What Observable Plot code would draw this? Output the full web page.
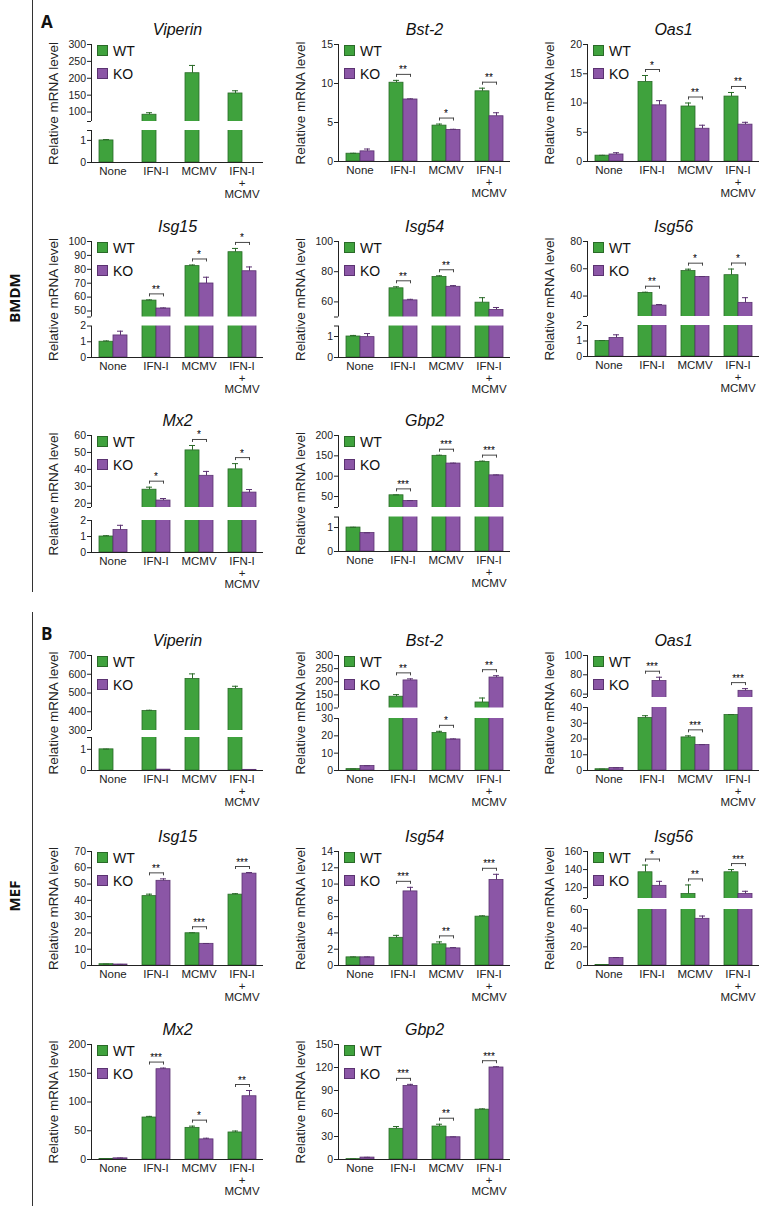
<!DOCTYPE html>
<html><head><meta charset="utf-8">
<script src="https://cdn.jsdelivr.net/npm/d3@7"></script>
<script src="https://cdn.jsdelivr.net/npm/@observablehq/plot@0.6"></script>
<style>
body{margin:0;background:#fff;font-family:"Liberation Sans",Arial,sans-serif;}
#root{position:relative;width:765px;height:1206px;overflow:hidden;background:#fff;}
.panel{position:absolute;z-index:1;}
.deco{z-index:2;}
.vline{position:absolute;left:32px;width:1.3px;background:#333;}
.sec{position:absolute;font-family:"Open Sans","Liberation Sans",sans-serif;font-weight:bold;font-size:17px;color:#111;}
.side{position:absolute;font-family:"Open Sans","Liberation Sans",sans-serif;font-weight:bold;font-size:15px;color:#111;transform:translate(-50%,-50%) rotate(-90deg);white-space:nowrap;}
.legend{position:absolute;z-index:3;font-size:14px;color:#111;line-height:1;}
.legend .row{display:flex;align-items:center;height:11px;margin-bottom:12px;}
.legend .sw{width:11px;height:11px;box-sizing:border-box;border:1px solid;margin-right:5px;}
g[aria-label="y-axis label"] text{font-size:13.5px;}
</style>
</head><body><div id="root"></div>
<script>
// ---------- shared categories ----------
const conditions = ["None", "IFN-I", "MCMV", "IFN-I\n+\nMCMV"];
const groups = ["WT", "KO"];

// ---------- A: BMDM ----------
const A_Viperin_WT = [1.0, 92, 215, 155];
const A_Viperin_WT_sd = [0.04, 6, 23, 8];
const A_Viperin_KO = [0, 0, 0, 0];
const A_Viperin_KO_sd = [0, 0, 0, 0];
const A_Viperin_sig = ["", "", "", ""];
const A_Viperin_lowTicks = [0, 1];
const A_Viperin_upTicks = [100, 150, 200, 250, 300];
const A_Viperin_break = [1.45, 72];

const A_Bst2_WT = [1.0, 10.1, 4.6, 9.0];
const A_Bst2_WT_sd = [0.05, 0.3, 0.2, 0.4];
const A_Bst2_KO = [1.3, 7.95, 4.05, 5.8];
const A_Bst2_KO_sd = [0.3, 0.08, 0.08, 0.45];
const A_Bst2_sig = ["", "**", "*", "**"];
const A_Bst2_ticks = [0, 5, 10, 15];

const A_Oas1_WT = [1.0, 13.6, 9.4, 11.1];
const A_Oas1_WT_sd = [0.05, 1.1, 0.6, 0.7];
const A_Oas1_KO = [1.2, 9.6, 5.6, 6.3];
const A_Oas1_KO_sd = [0.3, 0.8, 0.6, 0.4];
const A_Oas1_sig = ["", "*", "**", "**"];
const A_Oas1_ticks = [0, 5, 10, 15, 20];

const A_Isg15_WT = [1.0, 57.5, 82.3, 92.3];
const A_Isg15_WT_sd = [0.05, 0.5, 0.8, 2.7];
const A_Isg15_KO = [1.4, 51.8, 69.8, 78.6];
const A_Isg15_KO_sd = [0.27, 0.4, 4.5, 3.1];
const A_Isg15_sig = ["", "**", "*", "*"];
const A_Isg15_lowTicks = [0, 1, 2];
const A_Isg15_upTicks = [50, 60, 70, 80, 90, 100];
const A_Isg15_break = [2, 45.7];

const A_Isg54_WT = [1.0, 69, 76.5, 59.5];
const A_Isg54_WT_sd = [0.05, 1.0, 0.8, 3.3];
const A_Isg54_KO = [0.97, 61, 70, 54.7];
const A_Isg54_KO_sd = [0.17, 0.7, 0.8, 1.6];
const A_Isg54_sig = ["", "**", "**", ""];
const A_Isg54_lowTicks = [0, 1];
const A_Isg54_upTicks = [60, 80, 100];
const A_Isg54_break = [1.5, 50];

const A_Isg56_WT = [1.0, 42.3, 58.3, 55.3];
const A_Isg56_WT_sd = [0.03, 0.5, 1.4, 4.5];
const A_Isg56_KO = [1.2, 33, 54, 35];
const A_Isg56_KO_sd = [0.2, 0.8, 0.3, 3.8];
const A_Isg56_sig = ["", "**", "*", "*"];
const A_Isg56_lowTicks = [0, 1, 2];
const A_Isg56_upTicks = [40, 60, 80];
const A_Isg56_break = [2, 25];

const A_Mx2_WT = [1.0, 28, 51.2, 40];
const A_Mx2_WT_sd = [0.05, 1.5, 2.9, 3.4];
const A_Mx2_KO = [1.4, 21.6, 36.2, 26.3];
const A_Mx2_KO_sd = [0.3, 1.2, 2.6, 1.8];
const A_Mx2_sig = ["", "*", "*", "*"];
const A_Mx2_lowTicks = [0, 1, 2];
const A_Mx2_upTicks = [20, 30, 40, 50, 60];
const A_Mx2_break = [2, 17.5];

const A_Gbp2_WT = [1.0, 53, 150, 135];
const A_Gbp2_WT_sd = [0.01, 1, 1.5, 2];
const A_Gbp2_KO = [0.77, 39, 131, 102];
const A_Gbp2_KO_sd = [0.01, 1, 1, 1];
const A_Gbp2_sig = ["", "***", "***", "***"];
const A_Gbp2_lowTicks = [0, 1];
const A_Gbp2_upTicks = [50, 100, 150, 200];
const A_Gbp2_break = [1.44, 23];

// ---------- B: MEF ----------
const B_Viperin_WT = [1.0, 404, 575, 522];
const B_Viperin_WT_sd = [0.01, 4, 27, 14];
const B_Viperin_KO = [0, 0.04, 0, 0.03];
const B_Viperin_KO_sd = [0, 0, 0, 0];
const B_Viperin_sig = ["", "", "", ""];
const B_Viperin_lowTicks = [0, 1];
const B_Viperin_upTicks = [300, 400, 500, 600, 700];
const B_Viperin_break = [1.56, 300];

const B_Bst2_WT = [0.8, 143, 21.6, 121];
const B_Bst2_WT_sd = [0.05, 8, 1, 17];
const B_Bst2_KO = [2.6, 205, 17.9, 216];
const B_Bst2_KO_sd = [0.15, 6, 0.3, 7];
const B_Bst2_sig = ["", "**", "*", "**"];
const B_Bst2_lowTicks = [0, 10, 20, 30];
const B_Bst2_upTicks = [100, 150, 200, 250, 300];
const B_Bst2_break = [30, 100];

const B_Oas1_WT = [0.8, 33.3, 21, 35.2];
const B_Oas1_WT_sd = [0.05, 1.5, 1, 0.3];
const B_Oas1_KO = [1.6, 73.5, 16.2, 63.4];
const B_Oas1_KO_sd = [0.1, 4, 0.2, 2.3];
const B_Oas1_sig = ["", "***", "***", "***"];
const B_Oas1_lowTicks = [0, 10, 20, 30, 40];
const B_Oas1_upTicks = [60, 80, 100];
const B_Oas1_break = [40, 56.5];

const B_Isg15_WT = [0.8, 42.6, 19.8, 43.5];
const B_Isg15_WT_sd = [0.05, 1.2, 0.3, 0.6];
const B_Isg15_KO = [0.6, 52, 13.3, 56.4];
const B_Isg15_KO_sd = [0.05, 1.2, 0.2, 0.7];
const B_Isg15_sig = ["", "**", "***", "***"];
const B_Isg15_ticks = [0, 10, 20, 30, 40, 50, 60, 70];

const B_Isg54_WT = [1.0, 3.4, 2.6, 6.0];
const B_Isg54_WT_sd = [0.05, 0.3, 0.3, 0.1];
const B_Isg54_KO = [1.0, 9.1, 2.1, 10.5];
const B_Isg54_KO_sd = [0.05, 0.5, 0.1, 0.7];
const B_Isg54_sig = ["", "***", "**", "***"];
const B_Isg54_ticks = [0, 2, 4, 6, 8, 10, 12, 14];

const B_Isg56_WT = [0.5, 137, 113, 137];
const B_Isg56_WT_sd = [0.1, 8, 10, 3];
const B_Isg56_KO = [8, 122, 50, 113];
const B_Isg56_KO_sd = [0.5, 5, 3, 3];
const B_Isg56_sig = ["", "*", "**", "***"];
const B_Isg56_lowTicks = [0, 20, 40, 60];
const B_Isg56_upTicks = [120, 140, 160];
const B_Isg56_break = [60, 108];

const B_Mx2_WT = [1, 73, 55, 47];
const B_Mx2_WT_sd = [0.2, 2, 3, 2.5];
const B_Mx2_KO = [2, 157, 35, 110];
const B_Mx2_KO_sd = [0.5, 2, 2, 10];
const B_Mx2_sig = ["", "***", "*", "**"];
const B_Mx2_ticks = [0, 50, 100, 150, 200];

const B_Gbp2_WT = [0.5, 40, 43, 65];
const B_Gbp2_WT_sd = [0.2, 3, 3, 1];
const B_Gbp2_KO = [2.5, 96, 29, 120];
const B_Gbp2_KO_sd = [0.3, 2, 0.5, 1];
const B_Gbp2_sig = ["", "***", "**", "***"];
const B_Gbp2_ticks = [0, 30, 60, 90, 120, 150];

// ---------- styling ----------
const fillColors = {WT: "#3fa23d", KO: "#8b56a6"};
const edgeColors = {WT: "#2a6a28", KO: "#5b3271"};

// ---------- layout ----------
const PW = 250, ML = 72, MR = 3, MT = 28, MB = 50;
const colLeft = [17, 264, 513];
const rowTop = [16, 213, 407, 627, 823, 1016];

const panels = [
  {gene: "Viperin", wt: A_Viperin_WT, wtSd: A_Viperin_WT_sd, ko: A_Viperin_KO, koSd: A_Viperin_KO_sd, sig: A_Viperin_sig, low: A_Viperin_lowTicks, up: A_Viperin_upTicks, brk: A_Viperin_break, lowH: 32, gap: 9, col: 0, row: 0, fh: 118},
  {gene: "Bst-2", wt: A_Bst2_WT, wtSd: A_Bst2_WT_sd, ko: A_Bst2_KO, koSd: A_Bst2_KO_sd, sig: A_Bst2_sig, ticks: A_Bst2_ticks, col: 1, row: 0, fh: 117},
  {gene: "Oas1", wt: A_Oas1_WT, wtSd: A_Oas1_WT_sd, ko: A_Oas1_KO, koSd: A_Oas1_KO_sd, sig: A_Oas1_sig, ticks: A_Oas1_ticks, col: 2, row: 0, fh: 117},
  {gene: "Isg15", wt: A_Isg15_WT, wtSd: A_Isg15_WT_sd, ko: A_Isg15_KO, koSd: A_Isg15_KO_sd, sig: A_Isg15_sig, low: A_Isg15_lowTicks, up: A_Isg15_upTicks, brk: A_Isg15_break, lowH: 31.5, gap: 9, col: 0, row: 1, fh: 116},
  {gene: "Isg54", wt: A_Isg54_WT, wtSd: A_Isg54_WT_sd, ko: A_Isg54_KO, koSd: A_Isg54_KO_sd, sig: A_Isg54_sig, low: A_Isg54_lowTicks, up: A_Isg54_upTicks, brk: A_Isg54_break, lowH: 31.5, gap: 9, col: 1, row: 1, fh: 116},
  {gene: "Isg56", wt: A_Isg56_WT, wtSd: A_Isg56_WT_sd, ko: A_Isg56_KO, koSd: A_Isg56_KO_sd, sig: A_Isg56_sig, low: A_Isg56_lowTicks, up: A_Isg56_upTicks, brk: A_Isg56_break, lowH: 31, gap: 9, col: 2, row: 1, fh: 115},
  {gene: "Mx2", wt: A_Mx2_WT, wtSd: A_Mx2_WT_sd, ko: A_Mx2_KO, koSd: A_Mx2_KO_sd, sig: A_Mx2_sig, low: A_Mx2_lowTicks, up: A_Mx2_upTicks, brk: A_Mx2_break, lowH: 32, gap: 13, col: 0, row: 2, fh: 117},
  {gene: "Gbp2", wt: A_Gbp2_WT, wtSd: A_Gbp2_WT_sd, ko: A_Gbp2_KO, koSd: A_Gbp2_KO_sd, sig: A_Gbp2_sig, low: A_Gbp2_lowTicks, up: A_Gbp2_upTicks, brk: A_Gbp2_break, lowH: 34.5, gap: 9.5, col: 1, row: 2, fh: 116},
  {gene: "Viperin", wt: B_Viperin_WT, wtSd: B_Viperin_WT_sd, ko: B_Viperin_KO, koSd: B_Viperin_KO_sd, sig: B_Viperin_sig, low: B_Viperin_lowTicks, up: B_Viperin_upTicks, brk: B_Viperin_break, lowH: 33, gap: 7, col: 0, row: 3, fh: 115},
  {gene: "Bst-2", wt: B_Bst2_WT, wtSd: B_Bst2_WT_sd, ko: B_Bst2_KO, koSd: B_Bst2_KO_sd, sig: B_Bst2_sig, low: B_Bst2_lowTicks, up: B_Bst2_upTicks, brk: B_Bst2_break, lowH: 52, gap: 10.5, col: 1, row: 3, fh: 115},
  {gene: "Oas1", wt: B_Oas1_WT, wtSd: B_Oas1_WT_sd, ko: B_Oas1_KO, koSd: B_Oas1_KO_sd, sig: B_Oas1_sig, low: B_Oas1_lowTicks, up: B_Oas1_upTicks, brk: B_Oas1_break, lowH: 63, gap: 10, col: 2, row: 3, fh: 115},
  {gene: "Isg15", wt: B_Isg15_WT, wtSd: B_Isg15_WT_sd, ko: B_Isg15_KO, koSd: B_Isg15_KO_sd, sig: B_Isg15_sig, ticks: B_Isg15_ticks, col: 0, row: 4, fh: 114},
  {gene: "Isg54", wt: B_Isg54_WT, wtSd: B_Isg54_WT_sd, ko: B_Isg54_KO, koSd: B_Isg54_KO_sd, sig: B_Isg54_sig, ticks: B_Isg54_ticks, col: 1, row: 4, fh: 114},
  {gene: "Isg56", wt: B_Isg56_WT, wtSd: B_Isg56_WT_sd, ko: B_Isg56_KO, koSd: B_Isg56_KO_sd, sig: B_Isg56_sig, low: B_Isg56_lowTicks, up: B_Isg56_upTicks, brk: B_Isg56_break, lowH: 56, gap: 11, col: 2, row: 4, fh: 114},
  {gene: "Mx2", wt: B_Mx2_WT, wtSd: B_Mx2_WT_sd, ko: B_Mx2_KO, koSd: B_Mx2_KO_sd, sig: B_Mx2_sig, ticks: B_Mx2_ticks, col: 0, row: 5, fh: 115},
  {gene: "Gbp2", wt: B_Gbp2_WT, wtSd: B_Gbp2_WT_sd, ko: B_Gbp2_KO, koSd: B_Gbp2_KO_sd, sig: B_Gbp2_sig, ticks: B_Gbp2_ticks, col: 1, row: 5, fh: 115}
];

const root = document.getElementById("root");

function addDiv(cls, style, text) {
  const d = document.createElement("div");
  d.className = cls + " deco";
  Object.assign(d.style, style);
  if (text) d.textContent = text;
  root.appendChild(d);
  return d;
}

// section decorations
addDiv("vline", {top: "0px", height: "592px"});
addDiv("vline", {top: "612px", height: "594px"});
addDiv("sec", {left: "41px", top: "10px"}, "A");
addDiv("sec", {left: "41px", top: "622px"}, "B");
addDiv("side", {left: "14px", top: "298px"}, "BMDM");
addDiv("side", {left: "14px", top: "896px"}, "MEF");

function drawPanel(p) {
  // a (possibly broken) linear axis expressed as a piecewise transform
  // from data values to an axis coordinate (0 .. frame height)
  let toAxis, tickVals, labeled;
  if (p.brk) {
    const top = d3.max(p.up);
    toAxis = d3.scaleLinear().domain([0, p.brk[0], p.brk[1], top]).range([0, p.lowH, p.lowH + p.gap, p.fh]);
    labeled = new Set([...p.low, ...p.up]);
    tickVals = Array.from(new Set([...p.low, p.brk[0], p.brk[1], ...p.up]));
  } else {
    toAxis = d3.scaleLinear().domain([0, d3.max(p.ticks)]).range([0, p.fh]);
    labeled = new Set(p.ticks);
    tickVals = p.ticks;
  }
  const tickPos = tickVals.map(toAxis);
  const tickLabel = new Map(tickVals.map(t => [toAxis(t), labeled.has(t) ? String(t) : ""]));

  const rows = [];
  conditions.forEach((c, i) => {
    rows.push({c, g: "WT", v: p.wt[i], e: p.wtSd[i]});
    rows.push({c, g: "KO", v: p.ko[i], e: p.koSd[i]});
  });
  const sigRows = conditions.map((c, i) => ({c, s: p.sig[i], top: Math.max(p.wt[i] + p.wtSd[i], p.ko[i] + p.koSd[i])})).filter(d => d.s);
  const sigEnds = sigRows.flatMap(d => groups.map(g => ({...d, g})));

  const marks = [];
  marks.push(Plot.frame({anchor: "left", facetAnchor: "left", stroke: "#222", strokeWidth: 1}));
  for (const g of groups) {
    const gr = rows.filter(d => d.g === g);
    const er = gr.filter(d => d.e > 0);
    marks.push(Plot.barY(gr, {fx: "c", x: "g", y1: 0, y2: d => toAxis(d.v), fill: fillColors[g], stroke: edgeColors[g], strokeWidth: 0.8}));
    marks.push(Plot.ruleX(er, {fx: "c", x: "g", y1: d => toAxis(d.v), y2: d => toAxis(d.v + d.e), stroke: edgeColors[g], strokeWidth: 1}));
    marks.push(Plot.tickY(er, {fx: "c", x: "g", y: d => toAxis(d.v + d.e), stroke: edgeColors[g], strokeWidth: 1, insetLeft: 4, insetRight: 4}));
  }
  if (p.brk) {
    marks.push(Plot.rect([p.brk], {y1: d => toAxis(d[0]), y2: d => toAxis(d[1]), fill: "white", insetLeft: -3, insetRight: -1}));
  }
  marks.push(Plot.ruleY([0], {stroke: "#222", strokeWidth: 1}));
  marks.push(Plot.axisY({ticks: tickPos, tickFormat: d => tickLabel.get(d) ?? "", tickSize: 4, tickPadding: 1.5, fontSize: 10.5, stroke: "#222",
    label: "Relative mRNA level", labelAnchor: "center", labelArrow: "none", labelOffset: 43}));
  marks.push(Plot.axisFx({anchor: "bottom", tickSize: 0, tickPadding: 5, label: null, fontSize: 11.5, lineHeight: 0.97}));
  marks.push(Plot.link(sigRows, {fx: "c", x1: () => "WT", x2: () => "KO", y1: d => toAxis(d.top), y2: d => toAxis(d.top), dy: -6, stroke: "#333", strokeWidth: 0.9}));
  marks.push(Plot.ruleX(sigEnds, {fx: "c", x: "g", y1: d => toAxis(d.top), y2: d => toAxis(d.top), dy: -6, insetTop: 3, stroke: "#333", strokeWidth: 0.9}));
  marks.push(Plot.text(sigRows, {fx: "c", y: d => toAxis(d.top), text: "s", dy: -7, lineAnchor: "bottom", fontSize: 10, fill: "#000"}));
  marks.push(Plot.text([p.gene], {frameAnchor: "top", lineAnchor: "middle", dy: -15, facet: "super", fontSize: 16, fontStyle: "italic", fill: "#111"}));

  const chart = Plot.plot({
    width: PW, height: MT + p.fh + MB,
    marginLeft: ML, marginRight: MR, marginTop: MT, marginBottom: MB,
    style: {fontFamily: "'Liberation Sans', Arial, sans-serif", background: "transparent", color: "#222"},
    fx: {domain: conditions, padding: 0, label: null},
    x: {domain: groups, paddingInner: 0, paddingOuter: 0.45, axis: null},
    y: {domain: [0, p.fh]},
    marks
  });
  const div = document.createElement("div");
  div.className = "panel";
  div.style.left = colLeft[p.col] + "px";
  div.style.top = rowTop[p.row] + "px";
  div.appendChild(chart);
  root.appendChild(div);

  // legend overlay
  const lg = document.createElement("div");
  lg.className = "legend";
  lg.style.left = (colLeft[p.col] + ML + 8) + "px";
  lg.style.top = (rowTop[p.row] + MT + 1) + "px";
  for (const g of groups) {
    const r = document.createElement("div");
    r.className = "row";
    const sw = document.createElement("span");
    sw.className = "sw";
    sw.style.background = fillColors[g];
    sw.style.borderColor = edgeColors[g];
    const t = document.createElement("span");
    t.textContent = g;
    r.appendChild(sw); r.appendChild(t);
    lg.appendChild(r);
  }
  root.appendChild(lg);
}

panels.forEach(drawPanel);
</script>
</body></html>
